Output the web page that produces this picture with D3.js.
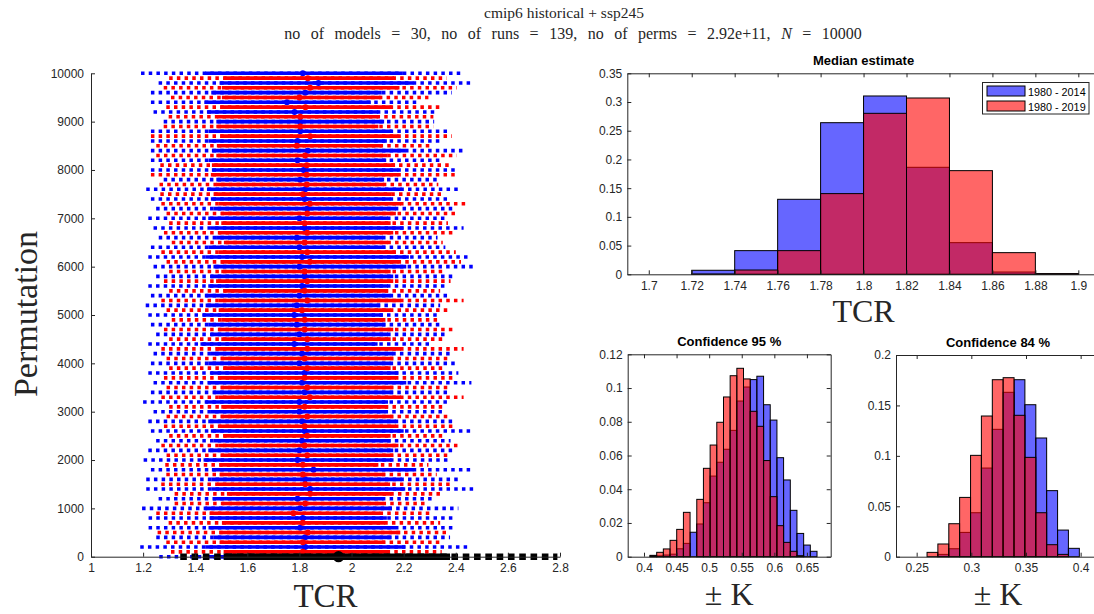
<!DOCTYPE html>
<html>
<head>
<meta charset="utf-8">
<script src="https://cdn.jsdelivr.net/npm/d3@7"></script>
<style>
  body { margin: 0; background: #fff; }
  .tick text { font-family: "Liberation Sans", Arial, sans-serif; font-size: 12px; fill: #262626; }
  .tick line { stroke: #262626; }
  .domain { stroke: #262626; }
  .serif { font-family: "Liberation Serif", "Times New Roman", serif; fill: #262626; }
  .ptitle { font-family: "Liberation Sans", Arial, sans-serif; font-size: 13px; font-weight: bold; fill: #000; }
</style>
</head>
<body>
<script>
// ---- data ----
// permutation runs: [perm, lo95, lo84, median, hi84, hi95]
const blueRuns = [
  [10000, 1.192, 1.4385, 1.813, 2.197, 2.427],
  [9800, 1.2595, 1.4934, 1.873, 2.238, 2.468],
  [9600, 1.230, 1.4615, 1.822, 2.116, 2.385],
  [9400, 1.230, 1.435, 1.752, 2.074, 2.263],
  [9200, 1.240, 1.445, 1.781, 2.103, 2.321],
  [9000, 1.279, 1.481, 1.803, 2.125, 2.317],
  [8800, 1.230, 1.451, 1.803, 2.154, 2.372],
  [8600, 1.230, 1.451, 1.7926, 2.1355, 2.353],
  [8400, 1.230, 1.464, 1.832, 2.206, 2.436],
  [8200, 1.230, 1.451, 1.7926, 2.133, 2.353],
  [8000, 1.230, 1.464, 1.816, 2.180, 2.404],
  [7800, 1.279, 1.481, 1.803, 2.125, 2.333],
  [7600, 1.212, 1.445, 1.822, 2.193, 2.423],
  [7400, 1.23, 1.46, 1.82, 2.15, 2.37],
  [7200, 1.25, 1.47, 1.83, 2.17, 2.40],
  [7000, 1.22, 1.45, 1.80, 2.14, 2.36],
  [6800, 1.24, 1.46, 1.82, 2.20, 2.43],
  [6600, 1.26, 1.48, 1.79, 2.12, 2.33],
  [6400, 1.23, 1.45, 1.80, 2.13, 2.36],
  [6200, 1.22, 1.44, 1.81, 2.22, 2.46],
  [6000, 1.24, 1.47, 1.80, 2.21, 2.47],
  [5800, 1.25, 1.46, 1.82, 2.16, 2.39],
  [5600, 1.22, 1.45, 1.81, 2.14, 2.37],
  [5400, 1.23, 1.44, 1.80, 2.15, 2.38],
  [5200, 1.21, 1.44, 1.79, 2.11, 2.34],
  [5000, 1.22, 1.43, 1.78, 2.12, 2.33],
  [4800, 1.23, 1.45, 1.79, 2.13, 2.35],
  [4600, 1.25, 1.46, 1.80, 2.14, 2.36],
  [4400, 1.22, 1.42, 1.78, 2.10, 2.31],
  [4200, 1.24, 1.46, 1.81, 2.16, 2.39],
  [4000, 1.23, 1.45, 1.80, 2.15, 2.40],
  [3800, 1.22, 1.46, 1.82, 2.18, 2.41],
  [3600, 1.24, 1.45, 1.81, 2.21, 2.46],
  [3400, 1.23, 1.47, 1.82, 2.16, 2.38],
  [3200, 1.20, 1.44, 1.80, 2.14, 2.37],
  [3000, 1.24, 1.46, 1.80, 2.13, 2.35],
  [2800, 1.22, 1.45, 1.81, 2.17, 2.40],
  [2600, 1.23, 1.46, 1.82, 2.20, 2.46],
  [2400, 1.25, 1.47, 1.81, 2.15, 2.38],
  [2200, 1.22, 1.45, 1.80, 2.16, 2.39],
  [2000, 1.202, 1.432, 1.7926, 2.154, 2.378],
  [1800, 1.230, 1.464, 1.854, 2.238, 2.470],
  [1600, 1.212, 1.4615, 1.822, 2.193, 2.417],
  [1400, 1.212, 1.4615, 1.841, 2.206, 2.474],
  [1200, 1.2595, 1.468, 1.7926, 2.123, 2.321],
  [1000, 1.196, 1.4385, 1.803, 2.154, 2.410],
  [800, 1.221, 1.455, 1.813, 2.1355, 2.397],
  [600, 1.221, 1.451, 1.803, 2.167, 2.397],
  [400, 1.2505, 1.4704, 1.822, 2.154, 2.378],
  [200, 1.189, 1.4385, 1.822, 2.206, 2.455],
  [0, 1.262, 1.451, 1.813, 2.180, 2.390]
];
const redRuns = [
  [9900, 1.300, 1.509, 1.832, 2.163, 2.365],
  [9700, 1.279, 1.5024, 1.841, 2.184, 2.404],
  [9500, 1.307, 1.5024, 1.800, 2.112, 2.295],
  [9300, 1.289, 1.496, 1.823, 2.154, 2.340],
  [9100, 1.298, 1.483, 1.803, 2.103, 2.314],
  [8900, 1.279, 1.481, 1.803, 2.103, 2.314],
  [8700, 1.230, 1.496, 1.841, 2.180, 2.385],
  [8500, 1.2505, 1.483, 1.790, 2.116, 2.308],
  [8300, 1.2505, 1.481, 1.822, 2.138, 2.404],
  [8100, 1.266, 1.464, 1.828, 2.167, 2.378],
  [7900, 1.230, 1.460, 1.828, 2.180, 2.404],
  [7700, 1.263, 1.481, 1.828, 2.125, 2.333],
  [7500, 1.266, 1.4704, 1.813, 2.154, 2.359],
  [7300, 1.27, 1.49, 1.84, 2.19, 2.44],
  [7100, 1.29, 1.50, 1.83, 2.17, 2.41],
  [6900, 1.30, 1.50, 1.82, 2.15, 2.37],
  [6700, 1.28, 1.49, 1.83, 2.16, 2.39],
  [6500, 1.31, 1.51, 1.82, 2.14, 2.35],
  [6300, 1.27, 1.49, 1.83, 2.17, 2.40],
  [6100, 1.29, 1.50, 1.84, 2.18, 2.42],
  [5900, 1.30, 1.50, 1.82, 2.15, 2.36],
  [5700, 1.28, 1.48, 1.83, 2.16, 2.38],
  [5500, 1.30, 1.51, 1.82, 2.14, 2.34],
  [5300, 1.27, 1.49, 1.83, 2.19, 2.43],
  [5100, 1.29, 1.49, 1.81, 2.15, 2.37],
  [4900, 1.31, 1.50, 1.82, 2.13, 2.33],
  [4700, 1.28, 1.49, 1.82, 2.16, 2.39],
  [4500, 1.30, 1.50, 1.83, 2.15, 2.36],
  [4300, 1.27, 1.48, 1.83, 2.19, 2.43],
  [4100, 1.29, 1.50, 1.82, 2.16, 2.38],
  [3900, 1.30, 1.51, 1.83, 2.15, 2.35],
  [3700, 1.28, 1.49, 1.82, 2.17, 2.40],
  [3500, 1.29, 1.50, 1.83, 2.16, 2.37],
  [3300, 1.27, 1.49, 1.84, 2.19, 2.43],
  [3100, 1.30, 1.50, 1.82, 2.14, 2.35],
  [2900, 1.29, 1.50, 1.83, 2.16, 2.38],
  [2700, 1.28, 1.49, 1.82, 2.17, 2.39],
  [2500, 1.30, 1.51, 1.83, 2.15, 2.36],
  [2300, 1.27, 1.49, 1.82, 2.18, 2.42],
  [2100, 1.29, 1.50, 1.83, 2.16, 2.38],
  [1900, 1.285, 1.4934, 1.813, 2.103, 2.295],
  [1700, 1.289, 1.4934, 1.813, 2.129, 2.327],
  [1500, 1.2696, 1.483, 1.822, 2.148, 2.391],
  [1300, 1.321, 1.5216, 1.841, 2.154, 2.353],
  [1100, 1.321, 1.5024, 1.822, 2.123, 2.289],
  [900, 1.2505, 1.455, 1.777, 2.110, 2.314],
  [700, 1.298, 1.5024, 1.813, 2.129, 2.340],
  [500, 1.2556, 1.4934, 1.832, 2.187, 2.378],
  [300, 1.289, 1.4934, 1.813, 2.129, 2.346],
  [100, 1.307, 1.509, 1.813, 2.142, 2.346]
];
// all-model estimate drawn at permutation 0
const allRun = [0, 1.3425, 1.509, 1.95, 2.378, 2.79];

const permTicks = [0, 1000, 2000, 3000, 4000, 5000, 6000, 7000, 8000, 9000, 10000];
const tcrTicks = [1, 1.2, 1.4, 1.6, 1.8, 2, 2.2, 2.4, 2.6, 2.8];

// median estimate histogram (probability)
const medianEdges = [1.70, 1.72, 1.74, 1.76, 1.78, 1.80, 1.82, 1.84, 1.86, 1.88, 1.90];
const medianBlue = [0, 0.007, 0.0412, 0.1306, 0.264, 0.3105, 0.1863, 0.0551, 0.004, 0.001];
const medianRed = [0, 0.0005, 0.0075, 0.0412, 0.1405, 0.2803, 0.307, 0.1805, 0.0377, 0.001];
const medianXTicks = [1.7, 1.72, 1.74, 1.76, 1.78, 1.8, 1.82, 1.84, 1.86, 1.88, 1.9];
const medianYTicks = [0, 0.05, 0.1, 0.15, 0.2, 0.25, 0.3, 0.35];

// confidence 95 % half-width histogram
const ci95Edges = [0.4092, 0.4195, 0.4297, 0.4400, 0.4502, 0.4605, 0.4707, 0.4810, 0.4912,
  0.5015, 0.5117, 0.5220, 0.5322, 0.5425, 0.5527, 0.5630, 0.5732, 0.5835, 0.5937, 0.6040,
  0.6142, 0.6245, 0.6347, 0.6450, 0.6552, 0.6655];
const ci95Blue = [0.0008, 0.0005, 0.001, 0.0015, 0.0047, 0.0079, 0.0145, 0.0194, 0.032, 0.0478,
  0.056, 0.0637, 0.0749, 0.0923, 0.1006, 0.105, 0.107, 0.0901, 0.081, 0.0587, 0.0455, 0.0275,
  0.0138, 0.0069, 0.0032];
const ci95Red = [0.0005, 0.0026, 0.0046, 0.0097, 0.0162, 0.0263, 0, 0.034, 0.0524, 0.0662,
  0.0797, 0.0947, 0.1073, 0.1117, 0.1054, 0.0862, 0.0773, 0.057, 0.0356, 0.0184, 0.0085,
  0.0032, 0.0006, 0, 0];
const ci95XTicks = [0.4, 0.45, 0.5, 0.55, 0.6, 0.65];
const ci95YTicks = [0, 0.02, 0.04, 0.06, 0.08, 0.1, 0.12];

// confidence 84 % half-width histogram
const ci84Edges = [0.2495, 0.2595, 0.2694, 0.2794, 0.2893, 0.2993, 0.3092, 0.3192, 0.3291,
  0.3391, 0.3490, 0.3590, 0.3689, 0.3789, 0.3888, 0.3988];
const ci84Blue = [0, 0, 0.0023, 0.0079, 0.0241, 0.0436, 0.0879, 0.1263, 0.163, 0.1755, 0.1507,
  0.1177, 0.0655, 0.0264, 0.0083];
const ci84Red = [0, 0.0043, 0.0126, 0.0327, 0.0588, 0.1005, 0.1395, 0.1755, 0.1775, 0.1402,
  0.0985, 0.0436, 0.0119, 0.0023, 0];
const ci84XTicks = [0.25, 0.3, 0.35, 0.4];
const ci84YTicks = [0, 0.05, 0.1, 0.15, 0.2];

const legendLabels = ['1980 - 2014', '1980 - 2019'];
const BLUE = '#0000ff', RED = '#ff0000';

// ---- figure ----
const svg = d3.select('body').append('svg')
  .attr('width', 1094).attr('height', 614)
  .style('display', 'block');

// super title (two lines; wider word gaps like the LaTeX math spacing)
svg.append('text').attr('class', 'serif')
  .attr('x', 564).attr('y', 18).attr('text-anchor', 'middle')
  .style('font-size', '15.5px').text('cmip6 historical + ssp245');
const l2 = svg.append('text').attr('class', 'serif')
  .attr('x', 573).attr('y', 39).attr('text-anchor', 'middle')
  .style('font-size', '16px').style('word-spacing', '6.5px');
l2.append('tspan').text('no of models = 30, no of runs = 139, no of perms = 2.92e+11, ');
l2.append('tspan').style('font-style', 'italic').text('N');
l2.append('tspan').text(' = 10000');

// --- 1. permutation panel ---
const L = { left: 91, right: 560, top: 73.3, bottom: 556.7 };
const xP = d3.scaleLinear().domain([1, 2.8]).range([L.left, L.right]);
const yP = d3.scaleLinear().domain([0, 10000]).range([L.bottom, L.top]);

const gRuns = svg.append('g');

function drawRun(run, color, width, dash, r) {
  const yy = yP(run[0]);
  gRuns.append('line')
    .attr('x1', xP(run[1])).attr('x2', xP(run[5]))
    .attr('y1', yy).attr('y2', yy)
    .attr('stroke', color).attr('stroke-width', width)
    .attr('stroke-dasharray', dash);
  gRuns.append('line')
    .attr('x1', xP(run[2])).attr('x2', xP(run[4]))
    .attr('y1', yy).attr('y2', yy)
    .attr('stroke', color).attr('stroke-width', width);
  gRuns.append('circle')
    .attr('cx', xP(run[3])).attr('cy', yy).attr('r', r)
    .attr('fill', color);
}

blueRuns.forEach(d => drawRun(d, BLUE, 3.6, '3.5,4.2', 3));
redRuns.forEach(d => drawRun(d, RED, 3.6, '3.5,4.2', 3));
drawRun(allRun, '#000', 6.5, '6.6,4.7', 5.6);

svg.append('g')
  .attr('transform', `translate(0,${L.bottom})`)
  .call(d3.axisBottom(xP).tickValues(tcrTicks).tickFormat(d => String(d))
    .tickSizeInner(-4).tickSizeOuter(0).tickPadding(7));
svg.append('g')
  .attr('transform', `translate(${L.left},0)`)
  .call(d3.axisLeft(yP).tickValues(permTicks).tickFormat(d => String(d))
    .tickSizeInner(-4).tickSizeOuter(0).tickPadding(7));

svg.append('text').attr('class', 'serif')
  .attr('x', (L.left + L.right) / 2).attr('y', 607)
  .attr('text-anchor', 'middle').style('font-size', '33px').text('TCR');
svg.append('text').attr('class', 'serif')
  .attr('transform', 'translate(37,314) rotate(-90)')
  .attr('text-anchor', 'middle').style('font-size', '34px').text('Permutation');

// --- 2. histogram panels ---
function histPanel(box, xDomain, yDomain, xTicks, yTicks, edges, blue, red, title, xlabel) {
  const x = d3.scaleLinear().domain(xDomain).range([box.left, box.right]);
  const y = d3.scaleLinear().domain(yDomain).range([box.bottom, box.top]);
  const g = svg.append('g');

  g.append('rect')
    .attr('x', box.left).attr('y', box.top)
    .attr('width', box.right - box.left).attr('height', box.bottom - box.top)
    .attr('fill', '#fff');

  [[blue, BLUE], [red, RED]].forEach(([vals, color]) => {
    g.selectAll(null)
      .data(vals.map((v, i) => ({ v, x0: edges[i], x1: edges[i + 1] })).filter(d => d.v > 0))
      .enter().append('rect')
      .attr('x', d => x(d.x0))
      .attr('width', d => x(d.x1) - x(d.x0))
      .attr('y', d => y(d.v))
      .attr('height', d => y(0) - y(d.v))
      .attr('fill', color).attr('fill-opacity', 0.6)
      .attr('stroke', '#000').attr('stroke-width', 1);
  });

  // axes on all four sides (box on)
  g.append('g').attr('transform', `translate(0,${box.bottom})`)
    .call(d3.axisBottom(x).tickValues(xTicks).tickFormat(d => String(d))
      .tickSizeInner(-4).tickSizeOuter(0).tickPadding(7));
  g.append('g').attr('transform', `translate(0,${box.top})`)
    .call(d3.axisTop(x).tickValues(xTicks).tickFormat('')
      .tickSizeInner(-4).tickSizeOuter(0));
  g.append('g').attr('transform', `translate(${box.left},0)`)
    .call(d3.axisLeft(y).tickValues(yTicks).tickFormat(d => String(d))
      .tickSizeInner(-4).tickSizeOuter(0).tickPadding(5));
  g.append('g').attr('transform', `translate(${box.right},0)`)
    .call(d3.axisRight(y).tickValues(yTicks).tickFormat('')
      .tickSizeInner(-4).tickSizeOuter(0));

  g.append('text').attr('class', 'ptitle')
    .attr('x', (box.left + box.right) / 2).attr('y', box.top - 8)
    .attr('text-anchor', 'middle').text(title);
  g.append('text').attr('class', 'serif')
    .attr('x', (box.left + box.right) / 2).attr('y', box.labelY)
    .attr('text-anchor', 'middle').style('font-size', '32px').text(xlabel);
  return g;
}

const gMed = histPanel({ left: 627.3, right: 1099.8, top: 73.3, bottom: 274.3, labelY: 322 },
  [1.69, 1.91], [0, 0.35], medianXTicks, medianYTicks, medianEdges, medianBlue, medianRed,
  'Median estimate', 'TCR');

histPanel({ left: 627.7, right: 830.7, top: 354.3, bottom: 556.7, labelY: 604.5 },
  [0.375, 0.6865], [0, 0.12], ci95XTicks, ci95YTicks, ci95Edges, ci95Blue, ci95Red,
  'Confidence 95 %', '\u00b1 K');

histPanel({ left: 896, right: 1100, top: 355, bottom: 556.7, labelY: 604.5 },
  [0.2311, 0.4177], [0, 0.2], ci84XTicks, ci84YTicks, ci84Edges, ci84Blue, ci84Red,
  'Confidence 84 %', '\u00b1 K');

// legend for the median panel
const lg = gMed.append('g');
lg.append('rect').attr('x', 982.5).attr('y', 82.5).attr('width', 106.5).attr('height', 31.5)
  .attr('fill', '#fff').attr('stroke', '#262626').attr('stroke-width', 1);
[BLUE, RED].forEach((c, i) => {
  lg.append('rect').attr('x', 987).attr('y', 86 + i * 15).attr('width', 38).attr('height', 10)
    .attr('fill', c).attr('fill-opacity', 0.6).attr('stroke', '#000').attr('stroke-width', 1);
  lg.append('text').attr('x', 1028).attr('y', 95.5 + i * 15)
    .style('font-family', '"Liberation Sans", Arial, sans-serif').style('font-size', '10.8px')
    .attr('fill', '#000').text(legendLabels[i]);
});
</script>
</body>
</html>
